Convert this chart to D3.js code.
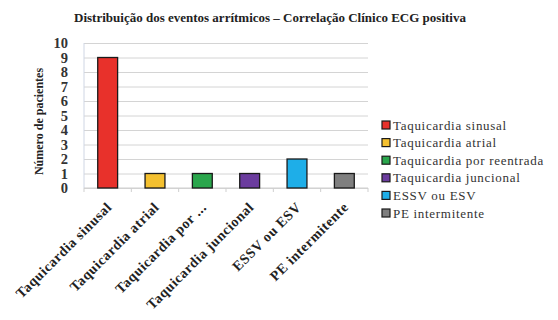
<!DOCTYPE html>
<html>
<meta charset="utf-8">
<style>
  body { margin: 0; background: #fff; }
  svg { width: 558px; height: 320px; }
  .grid line { stroke: #d4d4d4; }
  .grid path { stroke: none; }
</style>
<body>
  <svg></svg>
</body>
<script src="https://cdn.jsdelivr.net/npm/d3@7/dist/d3.min.js"></script>
<script>

var categories = ["Taquicardia sinusal", "Taquicardia atrial", "Taquicardia por ...",
                  "Taquicardia juncional", "ESSV ou ESV", "PE intermitente"];
var legendNames = ["Taquicardia sinusal", "Taquicardia atrial", "Taquicardia por reentrada",
                   "Taquicardia juncional", "ESSV ou ESV", "PE intermitente"];
var values = [9, 1, 1, 1, 2, 1];
var colors = ["#e8312b", "#f4c02f", "#2aa64c", "#6b3c9e", "#1eaee8", "#7f7f7f"];
var yTicks = [0, 1, 2, 3, 4, 5, 6, 7, 8, 9, 10];

var serif = "Liberation Serif";

var margin = {top: 43, left: 84, right: 190, bottom: 132},
    width = 558 - margin.left - margin.right,
    height = 320 - margin.top - margin.bottom;

var svg = d3.select("svg");

svg.append("text")
  .attr("x", 270).attr("y", 22)
  .attr("text-anchor", "middle")
  .style("font-family", serif)
  .attr("font-weight", "bold")
  .attr("font-size", 13)
  .attr("fill", "#222")
  .text("Distribuição dos eventos arrítmicos – Correlação Clínico ECG positiva");

var g = svg.append("g").attr("transform", "translate(" + margin.left + "," + margin.top + ")");

var xScale = d3.scaleBand().domain(categories).range([0, width]).paddingInner(0.58).paddingOuter(0.29);
var yScale = d3.scaleLinear().domain([0, 10]).range([height, 0]);

// gridlines
g.append("g").attr("class", "grid")
  .call(d3.axisLeft(yScale).tickValues(yTicks).tickSize(-width).tickFormat(""));

// left axis line, light
g.append("line").attr("x1", 0).attr("x2", 0).attr("y1", 0).attr("y2", height)
  .attr("stroke", "#cfd6e4");

// x axis with ticks at band boundaries
var step = width / categories.length;
g.append("line").attr("x1", 0).attr("x2", width).attr("y1", height).attr("y2", height)
  .attr("stroke", "#cfcfcf");
g.selectAll(".xt").data(d3.range(categories.length + 1)).enter().append("line")
  .attr("x1", function(i) { return i * step; }).attr("x2", function(i) { return i * step; })
  .attr("y1", height).attr("y2", height + 4).attr("stroke", "#cfcfcf");

g.selectAll("rect.bar").data(values).enter().append("rect")
  .attr("class", "bar")
  .attr("x", function(d, i) { return xScale(categories[i]); })
  .attr("y", function(d) { return yScale(d); })
  .attr("width", xScale.bandwidth())
  .attr("height", function(d) { return height - yScale(d); })
  .attr("fill", function(d, i) { return colors[i]; })
  .attr("stroke", "#1a1a1a").attr("stroke-width", 1.3);

// y tick labels
g.selectAll(".yl").data(yTicks).enter().append("text")
  .attr("x", -16).attr("y", function(d) { return yScale(d) + 5; })
  .attr("text-anchor", "end")
  .style("font-family", serif)
  .attr("font-weight", "bold").attr("font-size", 14.5).attr("fill", "#333")
  .text(function(d) { return d; });

// y title
g.append("text")
  .attr("transform", "translate(-41," + (height / 2 + 6) + ") rotate(-90)")
  .attr("text-anchor", "middle")
  .style("font-family", serif)
  .attr("font-weight", "bold").attr("font-size", 12).attr("fill", "#222")
  .text("Número de pacientes");

// x labels rotated
g.selectAll(".xl").data(categories).enter().append("text")
  .attr("transform", function(d) {
    return "translate(" + (xScale(d) + xScale.bandwidth() / 2 + 5) + "," + (height + 20) + ") rotate(-45)";
  })
  .attr("text-anchor", "end")
  .style("font-family", serif)
  .style("letter-spacing", "0.6px")
  .attr("font-weight", "bold").attr("font-size", 14).attr("fill", "#222")
  .text(function(d) { return d; });

// legend
var legend = svg.append("g").attr("transform", "translate(382,121)");
var rows = legend.selectAll("g").data(legendNames).enter().append("g")
  .attr("transform", function(d, i) { return "translate(0," + (i * 17.6) + ")"; });
rows.append("rect").attr("width", 8).attr("height", 8)
  .attr("fill", function(d, i) { return colors[i]; })
  .attr("stroke", "#1a1a1a").attr("stroke-width", 1.2);
rows.append("text").attr("x", 11).attr("y", 8.5)
  .style("font-family", serif)
  .style("letter-spacing", "0.7px")
  .attr("font-size", 13).attr("fill", "#333")
  .text(function(d) { return d; });

</script>
</html>
